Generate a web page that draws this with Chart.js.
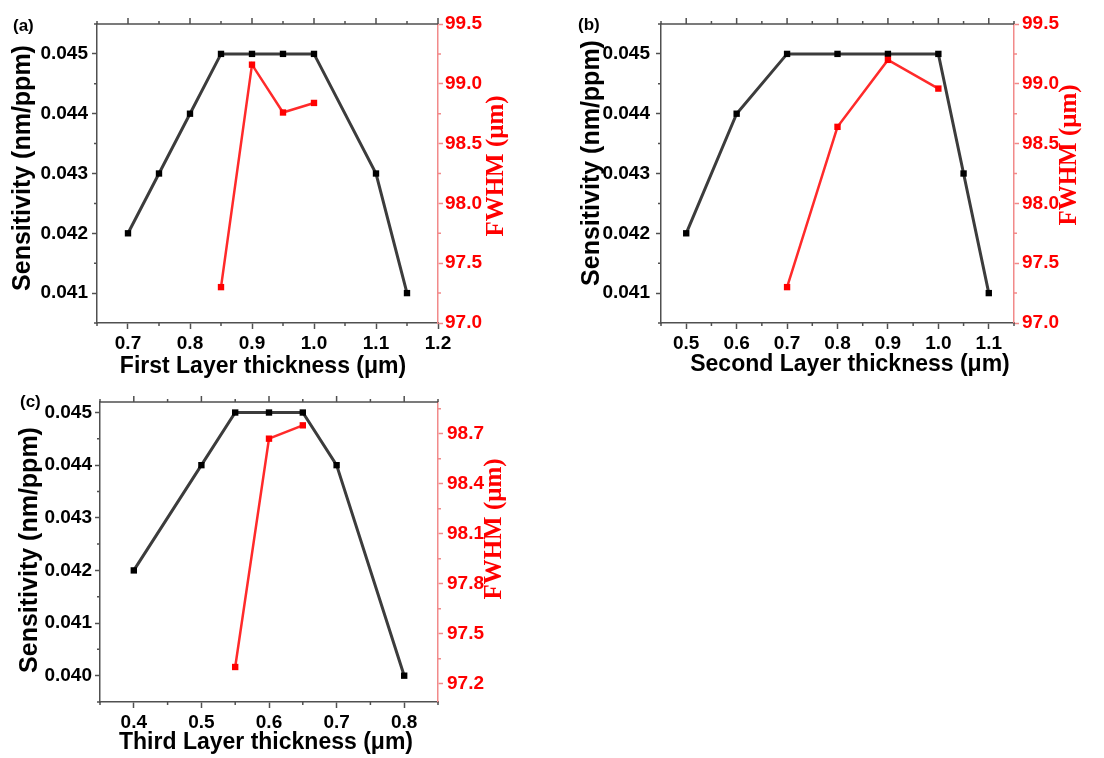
<!DOCTYPE html>
<html>
<head>
<meta charset="utf-8">
<script src="https://cdn.jsdelivr.net/npm/chart.js@4/dist/chart.umd.min.js"></script>
<style>
  html, body { margin: 0; padding: 0; background: #fff; }
  #wrap { position: relative; width: 1104px; height: 758px; overflow: hidden; }
  canvas { position: absolute; }
</style>
</head>
<body>
<div id="wrap">
  <canvas id="panelA" width="552" height="380" style="left:0;top:0"></canvas>
  <canvas id="panelB" width="552" height="380" style="left:552px;top:0"></canvas>
  <canvas id="panelC" width="552" height="380" style="left:0;top:378px"></canvas>
</div>
<script>
/* ==================== DATA ==================== */

// (a) first layer
const aThickness = [0.7, 0.75, 0.8, 0.85, 0.9, 0.95, 1.0, 1.1, 1.15];
const aSensitivity = [0.042, 0.043, 0.044, 0.045, 0.045, 0.045, 0.045, 0.043, 0.041];
const aFwhmThickness = [0.85, 0.9, 0.95, 1.0];
const aFwhm = [97.30, 99.16, 98.76, 98.84];
const aXTicks = [0.7, 0.8, 0.9, 1.0, 1.1, 1.2];
const aXMinor = [0.65, 0.75, 0.85, 0.95, 1.05, 1.15];
const aYTicks = [0.041, 0.042, 0.043, 0.044, 0.045];
const aYMinor = [0.0405, 0.0415, 0.0425, 0.0435, 0.0445, 0.0455];
const aY2Ticks = [97.0, 97.5, 98.0, 98.5, 99.0, 99.5];
const aY2Minor = [97.25, 97.75, 98.25, 98.75, 99.25];

// (b) second layer
const bThickness = [0.5, 0.6, 0.7, 0.8, 0.9, 1.0, 1.05, 1.1];
const bSensitivity = [0.042, 0.044, 0.045, 0.045, 0.045, 0.045, 0.043, 0.041];
const bFwhmThickness = [0.7, 0.8, 0.9, 1.0];
const bFwhm = [97.30, 98.64, 99.20, 98.96];
const bXTicks = [0.5, 0.6, 0.7, 0.8, 0.9, 1.0, 1.1];
const bXMinor = [0.45, 0.55, 0.65, 0.75, 0.85, 0.95, 1.05, 1.15];
const bYTicks = [0.041, 0.042, 0.043, 0.044, 0.045];
const bYMinor = [0.0405, 0.0415, 0.0425, 0.0435, 0.0445, 0.0455];
const bY2Ticks = [97.0, 97.5, 98.0, 98.5, 99.0, 99.5];
const bY2Minor = [97.25, 97.75, 98.25, 98.75, 99.25];

// (c) third layer
const cThickness = [0.4, 0.5, 0.55, 0.6, 0.65, 0.7, 0.8];
const cSensitivity = [0.042, 0.044, 0.045, 0.045, 0.045, 0.044, 0.040];
const cFwhmThickness = [0.55, 0.6, 0.65];
const cFwhm = [97.30, 98.67, 98.75];
const cXTicks = [0.4, 0.5, 0.6, 0.7, 0.8];
const cXMinor = [0.35, 0.45, 0.55, 0.65, 0.75, 0.85];
const cYTicks = [0.040, 0.041, 0.042, 0.043, 0.044, 0.045];
const cYMinor = [0.0395, 0.0405, 0.0415, 0.0425, 0.0435, 0.0445];
const cY2Ticks = [97.2, 97.5, 97.8, 98.1, 98.4, 98.7];
const cY2Minor = [97.35, 97.65, 97.95, 98.25, 98.55, 98.85];

/* ==================== STYLE ==================== */
const SANS = '"Liberation Sans", Arial, sans-serif';
const SERIF = '"Liberation Serif", "Times New Roman", serif';
const AXIS_GRAY = '#505050';
const AXIS_RED = '#f28a8a';
const tickFont = { family: SANS, weight: 'bold', size: 19 };

// minor ticks, top frame and titles
const framePlugin = {
    id: 'frame',
    afterDraw(chart, args, o) {
        const ctx = chart.ctx;
        const a = chart.chartArea;
        const sx = chart.scales.x, sy = chart.scales.y, sy2 = chart.scales.y1;
        ctx.save();
        ctx.lineWidth = 1.5;
        ctx.strokeStyle = AXIS_GRAY;
        ctx.beginPath();
        ctx.moveTo(a.left - 0.75, a.top);
        ctx.lineTo(a.right, a.top);
        o.xTicks.forEach(v => {
            const px = sx.getPixelForValue(v);
            ctx.moveTo(px, a.top);
            ctx.lineTo(px, a.top - 6);
        });
        o.xMinor.forEach(v => {
            const px = sx.getPixelForValue(v);
            ctx.moveTo(px, a.top);
            ctx.lineTo(px, a.top - 3);
            ctx.moveTo(px, a.bottom);
            ctx.lineTo(px, a.bottom + 3);
        });
        o.yMinor.forEach(v => {
            const py = sy.getPixelForValue(v);
            ctx.moveTo(a.left, py);
            ctx.lineTo(a.left - 3, py);
        });
        ctx.stroke();
        ctx.strokeStyle = AXIS_RED;
        ctx.beginPath();
        o.y2Minor.forEach(v => {
            const py = sy2.getPixelForValue(v);
            ctx.moveTo(a.right, py);
            ctx.lineTo(a.right + 3, py);
        });
        ctx.stroke();

        // texts
        ctx.textBaseline = 'middle';
        ctx.fillStyle = '#000';
        ctx.font = 'bold 17px ' + SANS;
        ctx.textAlign = 'left';
        ctx.fillText(o.label, o.labelPos[0], o.labelPos[1]);

        ctx.textAlign = 'center';
        ctx.font = 'bold 23px ' + SANS;
        ctx.fillText(o.xTitle, o.xTitlePos[0], o.xTitlePos[1]);

        ctx.save();
        ctx.translate(o.yTitlePos[0], o.yTitlePos[1]);
        ctx.rotate(-Math.PI / 2);
        ctx.font = 'bold 25px ' + SANS;
        ctx.fillText('Sensitivity (nm/ppm)', 0, 0);
        ctx.restore();

        ctx.save();
        ctx.translate(o.y2TitlePos[0], o.y2TitlePos[1]);
        ctx.rotate(-Math.PI / 2);
        ctx.font = 'bold 25px ' + SERIF;
        ctx.fillStyle = '#ff0000';
        ctx.fillText('FWHM (\u03bcm)', 0, 0);
        ctx.restore();
        ctx.restore();
    }
};

function fixedTicks(list) {
    return scale => { scale.ticks = list.map(v => ({ value: v })); };
}

/* ==================== PANEL CHART ==================== */
function initPanelChart(elementId, p) {
    return new Chart(document.getElementById(elementId), {
        type: 'line',
        data: {
            datasets: [{
                label: 'Sensitivity',
                data: p.xs.map((x, i) => ({ x: x, y: p.sens[i] })),
                yAxisID: 'y',
                order: 2,
                borderColor: '#3c3c3c',
                borderWidth: 3,
                pointStyle: 'rect',
                pointRadius: 4.5,
                pointBackgroundColor: '#000',
                pointBorderWidth: 0
            }, {
                label: 'FWHM',
                data: p.fx.map((x, i) => ({ x: x, y: p.fwhm[i] })),
                yAxisID: 'y1',
                order: 1,
                borderColor: '#ff2a2a',
                borderWidth: 2.5,
                pointStyle: 'rect',
                pointRadius: 4.5,
                pointBackgroundColor: '#ff0000',
                pointBorderWidth: 0
            }]
        },
        options: {
            responsive: false,
            animation: false,
            layout: { padding: { top: 24, left: 0, right: 0, bottom: 0 } },
            plugins: {
                legend: { display: false },
                tooltip: { enabled: false },
                frame: p.frame
            },
            scales: {
                x: {
                    type: 'linear',
                    min: p.xMin,
                    max: p.xMax,
                    afterBuildTicks: fixedTicks(p.frame.xTicks),
                    afterFit: s => { s.height = p.xAxisH; },
                    ticks: {
                        callback: v => v.toFixed(1),
                        font: tickFont,
                        color: '#000',
                        padding: 3,
                        maxRotation: 0,
                        autoSkip: false
                    },
                    grid: { drawOnChartArea: false, tickLength: 6, color: AXIS_GRAY, tickWidth: 1.5 },
                    border: { color: AXIS_GRAY, width: 1.5 }
                },
                y: {
                    position: 'left',
                    min: p.yMin,
                    max: p.yMax,
                    afterBuildTicks: fixedTicks(p.yTicks),
                    afterFit: s => { s.width = p.yAxisW; },
                    ticks: {
                        callback: v => v.toFixed(3),
                        font: tickFont,
                        color: '#000',
                        padding: p.yPad
                    },
                    grid: { drawOnChartArea: false, tickLength: 5, color: AXIS_GRAY, tickWidth: 1.5 },
                    border: { color: AXIS_GRAY, width: 1.5 }
                },
                y1: {
                    position: 'right',
                    min: p.y2Min,
                    max: p.y2Max,
                    afterBuildTicks: fixedTicks(p.y2Ticks),
                    afterFit: s => { s.width = p.y2AxisW; },
                    ticks: {
                        callback: v => v.toFixed(1),
                        font: tickFont,
                        color: '#ff0000',
                        padding: p.y2Pad
                    },
                    grid: { drawOnChartArea: false, tickLength: 5, color: AXIS_RED, tickWidth: 1.5 },
                    border: { color: AXIS_RED, width: 1.5 }
                }
            }
        },
        plugins: [framePlugin]
    });
}

initPanelChart('panelA', {
    xs: aThickness, sens: aSensitivity, fx: aFwhmThickness, fwhm: aFwhm,
    xMin: 0.65, xMax: 1.2, yMin: 0.0405, yMax: 0.0455, y2Min: 97.0, y2Max: 99.5,
    yTicks: aYTicks, y2Ticks: aY2Ticks,
    xAxisH: 57, yAxisW: 97, y2AxisW: 114, yPad: 4, y2Pad: 2,
    frame: {
        xTicks: aXTicks, xMinor: aXMinor, yMinor: aYMinor, y2Minor: aY2Minor,
        label: '(a)', labelPos: [13, 26],
        xTitle: 'First Layer thickness (\u03bcm)', xTitlePos: [263, 367],
        yTitlePos: [23, 168], y2TitlePos: [497, 166]
    }
});

initPanelChart('panelB', {
    xs: bThickness, sens: bSensitivity, fx: bFwhmThickness, fwhm: bFwhm,
    xMin: 0.45, xMax: 1.15, yMin: 0.0405, yMax: 0.0455, y2Min: 97.0, y2Max: 99.5,
    yTicks: bYTicks, y2Ticks: bY2Ticks,
    xAxisH: 57, yAxisW: 109, y2AxisW: 90, yPad: 6, y2Pad: 3,
    frame: {
        xTicks: bXTicks, xMinor: bXMinor, yMinor: bYMinor, y2Minor: bY2Minor,
        label: '(b)', labelPos: [26, 25],
        xTitle: 'Second Layer thickness (\u03bcm)', xTitlePos: [298, 365],
        yTitlePos: [40, 163], y2TitlePos: [518, 155]
    }
});

initPanelChart('panelC', {
    xs: cThickness, sens: cSensitivity, fx: cFwhmThickness, fwhm: cFwhm,
    xMin: 0.35, xMax: 0.85, yMin: 0.0395, yMax: 0.0452, y2Min: 97.09, y2Max: 98.89,
    yTicks: cYTicks, y2Ticks: cY2Ticks,
    xAxisH: 56, yAxisW: 100, y2AxisW: 114, yPad: 3, y2Pad: 4,
    frame: {
        xTicks: cXTicks, xMinor: cXMinor, yMinor: cYMinor, y2Minor: cY2Minor,
        label: '(c)', labelPos: [20, 24],
        xTitle: 'Third Layer thickness (\u03bcm)', xTitlePos: [266, 365],
        yTitlePos: [30, 172], y2TitlePos: [495, 151]
    }
});
</script>
</body>
</html>
